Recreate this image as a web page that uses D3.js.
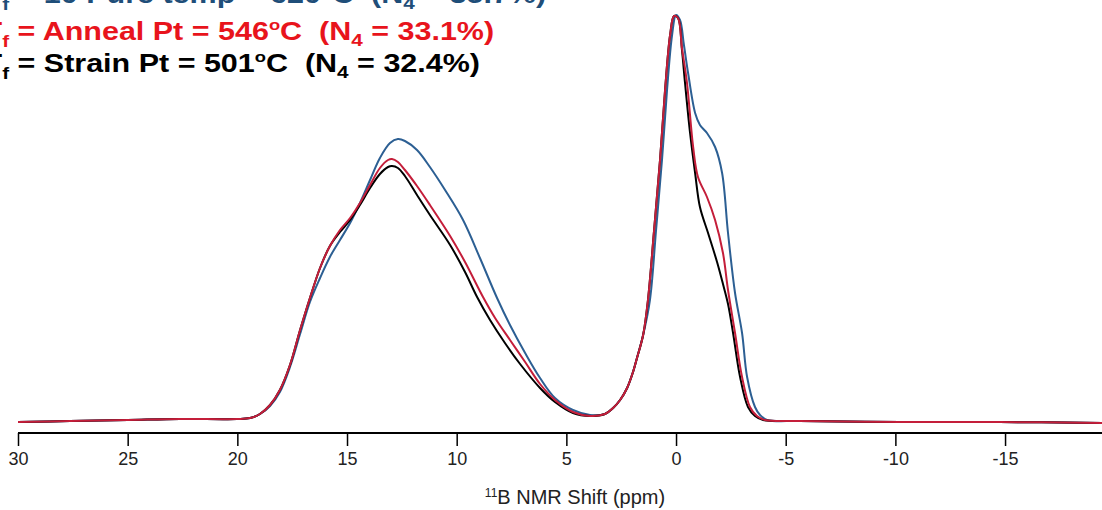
<!DOCTYPE html>
<html>
<head>
<meta charset="utf-8">
<script src="https://cdn.jsdelivr.net/npm/d3@7"></script>
<style>
  body { margin: 0; background: #fff; }
  svg { display: block; }
</style>
</head>
<body>
<svg width="1102" height="510"></svg>
<script>
// 11B NMR spectra, three fictive temperatures (intensity in arbitrary units)
const ticksX = [30, 25, 20, 15, 10, 5, 0, -5, -10, -15];

const pureShift = [30, 27.63, 24.99, 22.62, 20.02, 19.42, 18.97, 18.51, 18.06, 17.6, 17.14, 16.69, 16.23, 15.78, 15.32, 14.86, 14.41, 13.95, 13.5, 13.04, 12.68, 12.36, 11.81, 11.22, 10.53, 9.71, 8.94, 8.16, 7.57, 6.88, 6.2, 5.52, 4.7, 3.92, 3.24, 2.87, 2.55, 2.23, 1.96, 1.78, 1.5, 1.19, 0.91, 0.64, 0.41, 0.18, 0, -0.18, -0.36, -0.55, -0.87, -1.09, -1.41, -1.78, -2.1, -2.37, -2.69, -3.01, -3.24, -3.6, -3.83, -4.15, -5.65, -10.21, -14.77, -19.42];
const pureInt = [0, 1, 2, 3, 3, 4, 8, 16, 30, 55, 88, 120, 144, 165, 182, 199, 219, 242, 264, 279, 283, 281, 272, 255, 232, 202, 164, 124, 97, 69, 44, 24, 12, 7, 8, 14, 22, 34, 50, 64, 87, 122, 192, 262, 332, 387, 407, 402, 377, 349, 309, 297, 289, 275, 249, 189, 129, 89, 45, 15, 7, 2, 1, 0, 0, -1];

const annealShift = [30, 27.63, 24.99, 22.62, 20.02, 19.42, 18.97, 18.51, 18.06, 17.6, 17.14, 16.69, 16.23, 15.78, 15.32, 14.86, 14.41, 13.95, 13.5, 13.13, 12.95, 12.68, 12.36, 11.81, 11.22, 10.3, 9.62, 8.8, 8.25, 7.57, 6.88, 6.2, 5.52, 4.7, 3.92, 3.24, 2.87, 2.55, 2.23, 1.96, 1.78, 1.5, 1.28, 1, 0.73, 0.5, 0.27, 0.09, -0.09, -0.27, -0.5, -0.78, -1, -1.41, -1.78, -2.14, -2.37, -2.69, -3.01, -3.37, -3.69, -4.06, -5.65, -10.21, -14.77, -19.42];
const annealInt = [0, 1, 2, 3, 3, 4, 8, 17, 32, 57, 92, 124, 154, 176, 192, 204, 219, 237, 254, 262, 263, 260, 252, 236, 217, 186, 160, 125, 104, 82, 60, 38, 22, 10, 6, 8, 14, 22, 34, 50, 64, 87, 122, 192, 262, 332, 387, 406, 404, 374, 339, 275, 245, 225, 202, 169, 132, 89, 45, 15, 6, 2, 1, 0, 0, -1];

const strainShift = [30, 27.63, 24.99, 22.62, 20.02, 19.42, 18.97, 18.51, 18.06, 17.6, 17.14, 16.69, 16.23, 15.78, 15.32, 14.86, 14.41, 13.95, 13.5, 13.13, 12.95, 12.68, 12.36, 11.81, 11.22, 10.3, 9.62, 9.07, 8.48, 7.8, 7.11, 6.2, 5.52, 4.7, 3.92, 3.24, 2.87, 2.55, 2.23, 1.96, 1.78, 1.5, 1.28, 1, 0.73, 0.5, 0.27, 0.09, -0.09, -0.27, -0.41, -0.64, -0.87, -1.09, -1.46, -1.87, -2.14, -2.37, -2.6, -2.92, -3.28, -3.6, -3.97, -5.65, -10.21, -14.77, -19.42];
const strainInt = [0, 1, 2, 3, 3, 4, 8, 17, 32, 57, 92, 124, 154, 176, 190, 202, 217, 234, 248, 255, 256, 254, 246, 227, 207, 177, 150, 125, 102, 79, 58, 34, 20, 9, 6, 8, 14, 22, 34, 50, 64, 87, 122, 192, 262, 332, 387, 406, 404, 372, 339, 289, 249, 215, 189, 160, 138, 118, 89, 45, 15, 6, 2, 1, 0, 0, -1];

const series = [
  {name: "pure", shift: pureShift, inten: pureInt, color: "#2c5f93"},
  {name: "strain", shift: strainShift, inten: strainInt, color: "#000000"},
  {name: "anneal", shift: annealShift, inten: annealInt, color: "#c41e3a"}
];

const svg = d3.select("svg");

const x = d3.scaleLinear().domain([30, -19.42]).range([18, 1102]);
const y = d3.scaleLinear().domain([0, 408]).range([422, 14]);

const line = d3.line()
  .x(d => x(d[0]))
  .y(d => y(d[1]))
  .curve(d3.curveCatmullRom.alpha(0.5));

series.forEach(s => {
  const pts = s.shift.map((v, i) => [v, s.inten[i]]);
  svg.append("path")
    .datum(pts)
    .attr("fill", "none")
    .attr("stroke", s.color)
    .attr("stroke-width", 2)
    .attr("stroke-linejoin", "round")
    .attr("d", line);
});

// bottom axis
const xAxis = d3.axisBottom(x).tickValues(ticksX).tickSize(13).tickPadding(6).tickFormat(d => String(d));
const gx = svg.append("g")
  .attr("transform", "translate(0,433)")
  .call(xAxis);
gx.select(".domain").attr("stroke", "#000").attr("stroke-width", 2).attr("d", "M18,0H1102");
gx.selectAll(".tick line").attr("stroke", "#000").attr("stroke-width", 1.5);
gx.selectAll(".tick text")
  .attr("font-family", "'Liberation Sans', Arial, sans-serif")
  .attr("font-size", 18)
  .attr("fill", "#222");

const title = svg.append("text")
  .attr("x", 575).attr("y", 504)
  .attr("text-anchor", "middle")
  .attr("font-family", "'Liberation Sans', Arial, sans-serif")
  .attr("font-size", 20)
  .attr("fill", "#222");
title.append("tspan").attr("font-size", 12).attr("dy", -7).text("11");
title.append("tspan").attr("dy", 7).text("B NMR Shift (ppm)");

// legend lines (cropped at top-left like the original)
const legend = [
  {label: "10 Pure temp", temp: "620", n4: "35.7", color: "#1f4e79", base: 3},
  {label: "Anneal Pt", temp: "546", n4: "33.1", color: "#e8141c", base: 40},
  {label: "Strain Pt", temp: "501", n4: "32.4", color: "#000000", base: 72}
];

const lg = svg.append("g").attr("transform", "scale(1.22,1)");
legend.forEach(l => {
  const t = lg.append("text")
    .attr("x", -13.5).attr("y", l.base)
    .attr("font-family", "'Liberation Sans', Arial, sans-serif")
    .attr("font-weight", "bold")
    .attr("font-size", 25)
    .attr("fill", l.color);
  t.append("tspan").text("T");
  t.append("tspan").attr("font-size", 17).attr("dy", 7).text("f");
  t.append("tspan").attr("dy", -7).text("\u00a0= " + l.label + " = " + l.temp);
  t.append("tspan").attr("font-size", 15).attr("dy", -10).text("o");
  t.append("tspan").attr("dy", 10).text("C\u00a0\u00a0(N");
  t.append("tspan").attr("font-size", 17).attr("dy", 6).text("4");
  t.append("tspan").attr("dy", -6).text(" = " + l.n4 + "%)");
});
</script>
</body>
</html>
